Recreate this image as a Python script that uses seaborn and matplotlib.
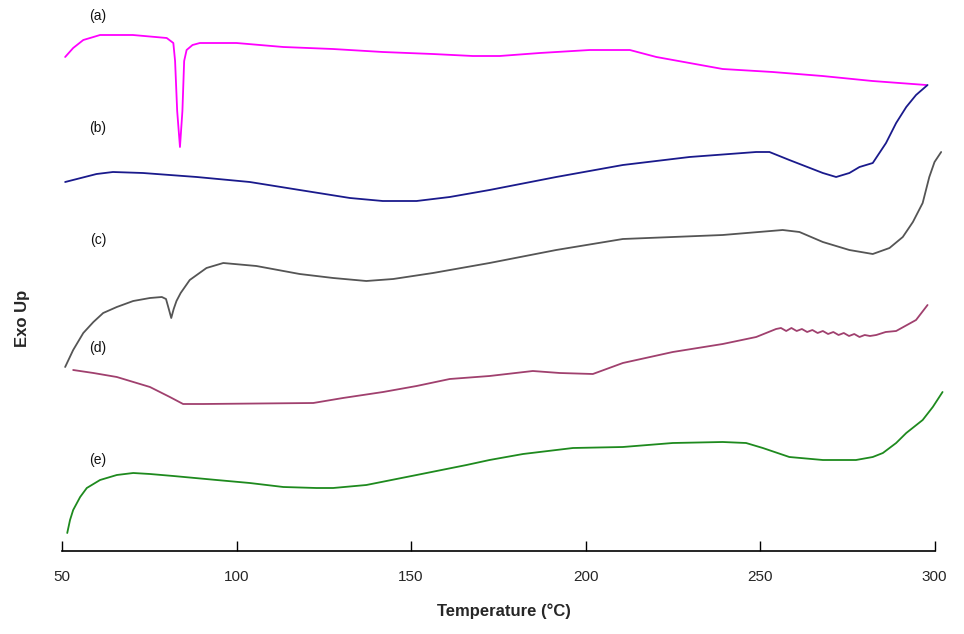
import matplotlib
matplotlib.use("Agg")
import matplotlib.pyplot as plt
import seaborn as sns

# ---- data (signal in arbitrary units, Exo Up) ----
t_a = [50.9, 53.2, 56.1, 59.0, 60.9, 70.3, 80.0, 81.9, 82.4, 83.0, 83.8, 84.5, 85.0, 85.7, 87.4,
       89.5, 100.0, 113.4, 127.6, 141.9, 156.2, 167.7, 175.4, 186.9, 201.2, 212.7, 220.3,
       229.8, 239.3, 253.6, 267.9, 282.2, 297.6]
y_a = [494, 503, 511, 514, 516, 516, 513, 508, 490, 440, 404, 440, 490, 501, 506,
       508, 508, 504, 502, 499, 497, 495, 495, 498, 501, 501, 494,
       488, 482, 479, 475, 470, 466]

t_b = [50.9, 59.9, 64.6, 73.2, 88.6, 103.8, 118.1, 132.5, 141.9, 151.6, 161.1, 172.5, 191.6,
       210.7, 229.8, 248.9, 252.7, 258.4, 268.0, 271.8, 275.6, 278.5, 282.3, 286.1, 289.0,
       291.9, 294.7, 298.0]
y_b = [369, 377, 379, 378, 374, 369, 361, 353, 350, 350, 354, 361, 374,
       386, 394, 399, 399, 391, 378, 374, 378, 384, 388, 408, 428,
       444, 456, 466]

t_c = [50.9, 53.2, 56.1, 59.0, 61.8, 65.7, 70.4, 75.2, 78.6, 79.8, 80.6, 81.3, 82.0, 82.8,
       84.0, 86.6, 91.4, 96.2, 105.7, 118.1, 127.7, 137.2, 144.9, 156.3, 172.5, 191.6, 210.7,
       225.0, 239.3, 256.5, 261.3, 268.0, 275.6, 282.3, 287.1, 290.9, 293.8, 296.6, 298.5,
       300.0, 301.9]
y_c = [184, 201, 218, 229, 238, 244, 250, 253, 254, 252, 242, 233, 242, 250,
       258, 271, 283, 288, 285, 277, 273, 270, 272, 278, 288, 301, 312,
       314, 316, 321, 319, 309, 301, 297, 303, 314, 329, 348, 374,
       389, 399]

t_d = [53.2, 59.0, 65.7, 75.2, 80.9, 84.7, 90.5, 122.0, 130.5, 142.0, 151.6, 161.1, 172.5,
       184.9, 192.6, 202.1, 210.7, 225.0, 239.3, 248.9, 254.6,
       256.0, 257.5, 259.0, 260.5, 262.0, 263.5, 265.0, 266.5, 268.0, 269.5, 271.0, 272.5,
       274.0, 275.5, 277.0, 278.5, 280.0, 281.5, 283.3, 286.0, 289.0, 294.7, 298.0]
y_d = [181, 178, 174, 164, 154, 147, 147, 148, 153, 159, 165, 172, 175,
       180, 178, 177, 188, 199, 207, 214, 222,
       223, 220, 223, 220, 222, 219, 221, 218, 220, 217, 219, 216,
       218, 215, 217, 214, 216, 215, 216, 219, 220, 231, 246]

t_e = [51.5, 52.3, 53.2, 55.2, 57.1, 60.9, 65.7, 70.4, 75.2, 81.9, 94.3, 103.8, 113.4, 122.9,
       127.7, 137.2, 151.6, 165.9, 172.5, 182.1, 196.4, 210.7, 225.0, 239.3, 246.0, 250.8,
       258.4, 268.0, 277.5, 282.3, 285.2, 289.0, 291.9, 296.6, 299.5, 302.3]
y_e = [18, 31, 41, 54, 63, 71, 76, 78, 77, 75, 71, 68, 64, 63,
       63, 66, 76, 86, 91, 97, 103, 104, 108, 109, 108, 103,
       94, 91, 91, 94, 98, 108, 118, 131, 144, 159]

curve_labels = ["(a)", "(b)", "(c)", "(d)", "(e)"]
label_y = [535, 423, 311, 203, 91]
x_ticks = [50, 100, 150, 200, 250, 300]
colors = ["#FF00FF", "#1A1A8C", "#555555", "#A0406E", "#1E8A1E"]

sns.set_theme(style="white")
plt.rcParams["font.family"] = ["Liberation Sans", "DejaVu Sans"]

fig = plt.figure(figsize=(9.64, 6.34), dpi=100)
ax = fig.add_axes([62 / 964, (634 - 551) / 634, (945 - 62) / 964, 551 / 634])

series = [(t_a, y_a), (t_b, y_b), (t_c, y_c), (t_d, y_d), (t_e, y_e)]
for (tx, ty), col in zip(series, colors):
    sns.lineplot(x=tx, y=ty, color=col, linewidth=1.3, sort=False, ax=ax)

for lab, ly in zip(curve_labels, label_y):
    ax.text(60.3, ly, lab, fontsize=10, color="#111111", ha="center", va="center")

ax.set_xlim(50, 303)
ax.set_ylim(0, 551)
ax.set_yticks([])
ax.set_xticks(x_ticks)
ax.set_xticklabels([str(v) for v in x_ticks], fontsize=11,
                   family=["Liberation Sans Narrow", "Liberation Sans", "DejaVu Sans"])
ax.tick_params(axis="x", direction="in", length=7, width=1, color="black", pad=14,
               bottom=True)
for s in ["top", "right", "left"]:
    ax.spines[s].set_visible(False)
ax.spines["bottom"].set_color("black")
ax.spines["bottom"].set_linewidth(1.2)
ax.spines["bottom"].set_bounds(50, 300)

ax.set_xlabel("Temperature (°C)", fontsize=12, fontweight="bold", labelpad=14)
fig.text(22 / 964, 1 - 318 / 634, "Exo Up", rotation=90, fontsize=12, fontweight="bold",
         ha="center", va="center")

fig.savefig("out.png", dpi=100)
